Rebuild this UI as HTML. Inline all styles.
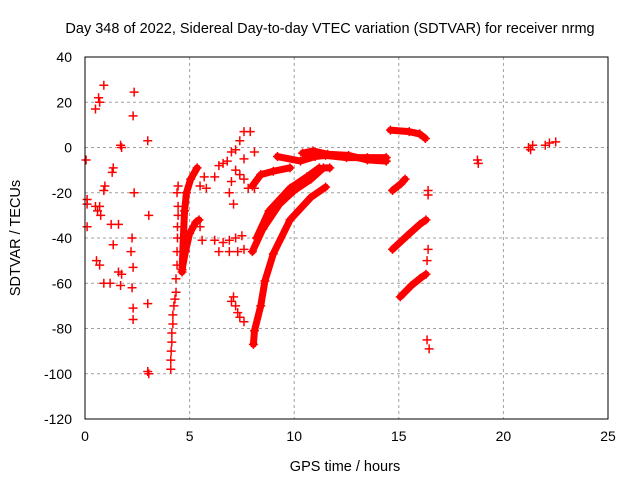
<!DOCTYPE html>
<html><head><meta charset="utf-8"><style>
body{margin:0;background:#fff}
svg{display:block;font-family:"Liberation Sans",sans-serif}
</style></head><body>
<svg id="chart" width="640" height="480">
<text x="330" y="33" font-size="14.5" text-anchor="middle" fill="#000">Day 348 of 2022, Sidereal Day-to-day VTEC variation (SDTVAR) for receiver nrmg</text>
<text x="345" y="471" font-size="14.5" text-anchor="middle">GPS time / hours</text>
<text transform="translate(20,238) rotate(-90)" font-size="14.5" text-anchor="middle">SDTVAR / TECUs</text>
<g id="grid"></g>
<g id="ticks"></g>
<g id="marks"></g>
<rect x="85" y="57" width="523" height="362" fill="none" stroke="#000" stroke-width="1"/>
</svg>
<script>
const xTicks=[0,5,10,15,20,25];
const yTicks=[40,20,0,-20,-40,-60,-80,-100,-120];
const scatterPts=[[0.05,-5.5],[0.1,-23],[0.1,-25],[0.1,-35],[0.5,17],[0.65,22],[0.7,20],[0.9,27.5],[0.5,-26],[0.6,-28],[0.7,-26],[0.75,-30],[0.9,-19],[0.95,-17],[0.55,-50],[0.7,-52],[0.9,-60],[1.2,-60],[1.3,-11],[1.35,-9],[1.25,-34],[1.35,-43],[1.6,-34],[1.7,1],[1.75,0],[1.75,-56],[1.7,-61],[1.6,-55],[2.2,-46],[2.25,-62],[2.3,-53],[2.3,14],[2.35,24.5],[2.25,-40],[2.35,-20],[2.3,-71],[2.3,-76],[3.0,3],[3.05,-30],[3.0,-69],[3.0,-99],[3.05,-100],
[4.1,-98],[4.1,-94],[4.12,-90],[4.15,-86],[4.15,-82],[4.2,-78],[4.2,-74],[4.25,-70],[4.3,-67],[4.35,-64],[4.35,-58],[4.4,-52],[4.4,-46],[4.42,-40],[4.42,-35],[4.45,-30],[4.45,-26],[4.4,-20],[4.45,-17],
[5.6,-41],[6.2,-41],[6.6,-42],[6.9,-41],[7.2,-40],[7.5,-39],[6.4,-46],[6.9,-46],[7.3,-46],[7.6,-45],[5.5,-35],[5.8,-18],[5.5,-17],[5.7,-13],[6.2,-13],[6.4,-8],[6.8,-6],[7.0,-2],[7.2,-1],[7.4,3],[7.6,7],[7.9,7],[7.2,-10],[7.4,-12],[7.6,-14],[7.8,-18],[8.1,-18],[7.0,-15],[6.6,-7],[6.9,-20],[7.1,-25],[8.1,-2],[7.6,-5],[7.1,-66],[7.2,-70],[7.4,-75],[7.6,-77],[7.0,-68],[7.3,-73],
[16.4,-19],[16.4,-21],[16.35,-85],[16.45,-89],[16.4,-45],[16.35,-50],[18.76,-5.5],[18.8,-7],[21.2,0],[21.3,-1],[21.4,1],[22.0,1],[22.2,2],[22.5,2.5]];
const bandA=[[4.64,-55],[4.7,-40],[4.76,-28],[4.85,-20],[5.05,-14],[5.36,-9]];
const bandB=[[4.64,-54],[4.8,-46],[5.0,-38],[5.3,-33],[5.45,-32]];
const bigCurve=[[8.05,-87],[8.1,-81],[8.4,-70],[8.6,-59],[9.0,-47],[9.8,-32],[10.8,-22],[11.5,-17.5]];
const upperCurve=[[8.0,-46],[8.5,-36],[9.3,-25],[10.0,-19],[10.8,-14],[11.4,-9],[11.7,-9]];
const innerCurve=[[8.2,-40],[8.8,-28],[9.8,-18],[10.6,-13],[11.2,-9]];
const plateau=[[9.2,-4],[10.3,-6],[11.0,-4],[11.5,-3.5],[12.5,-4.5],[13.5,-4.5],[14.4,-4.5]];
const plateau2=[[10.4,-2.5],[10.9,-1.5],[11.6,-3],[12.6,-3.5],[13.5,-5.5],[14.4,-6]];
const earlyCurve=[[8.0,-17],[8.4,-12],[9.0,-10.5],[9.8,-9]];
const rightTop=[[14.6,7.7],[15.5,7],[16.0,6],[16.27,4]];
const rightA=[[14.7,-19],[15.1,-16],[15.3,-14]];
const rightB=[[14.7,-45],[15.4,-39],[16.0,-34],[16.3,-32]];
const rightC=[[15.07,-66],[15.6,-61],[16.0,-58],[16.3,-56]];
const curves=[bandA,bandB,bigCurve,upperCurve,innerCurve,plateau,plateau2,earlyCurve,rightTop,rightA,rightB,rightC];
const X0=85,X1=608,Y0=57,Y1=419;
const xs=v=>X0+(v-0)/(25-0)*(X1-X0);
const ys=v=>Y0+(40-v)/(40+120)*(Y1-Y0);
const NS='http://www.w3.org/2000/svg';
const grid=document.getElementById('grid'),ticks=document.getElementById('ticks'),marks=document.getElementById('marks');
function mk(t,a,p){const e=document.createElementNS(NS,t);for(const k in a)e.setAttribute(k,a[k]);p.appendChild(e);return e;}
xTicks.forEach(t=>{const x=xs(t);
 if(t>0&&t<25){const g=mk('line',{x1:x,x2:x,y1:Y0,y2:Y1,stroke:'#a0a0a0','stroke-dasharray':'3,3'},grid);}
 const l=mk('text',{x:x,y:Y1+22,'font-size':14,'text-anchor':'middle'},ticks);l.textContent=t;
 
 });
yTicks.forEach(t=>{const y=ys(t);
 if(t<40&&t>-120){const g=mk('line',{x1:X0,x2:X1,y1:y,y2:y,stroke:'#a0a0a0','stroke-dasharray':'3,3'},grid);}
 const l=mk('text',{x:X0-13,y:y+5,'font-size':14,'text-anchor':'end'},ticks);l.textContent=t;
 
 });
function plus(h,v){const x=xs(h),y=ys(v);
 const p=mk('path',{d:`M${x-4.5},${y}H${x+4.5}M${x},${y-4.5}V${y+4.5}`,stroke:'#f00','stroke-width':1.5},marks);
 
 }
curves.forEach(c=>{
 const pl=mk('polyline',{points:c.map(p=>xs(p[0])+','+ys(p[1])).join(' '),fill:'none',stroke:'#f00','stroke-width':7,'stroke-linejoin':'round','stroke-linecap':'round'},marks);
 
 
 c.forEach(p=>plus(p[0],p[1]));});
scatterPts.forEach(p=>plus(p[0],p[1]));
</script>
</body></html>
